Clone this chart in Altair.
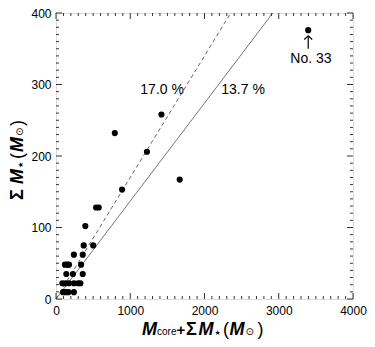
import altair as alt
import pandas as pd

# ---- data ----
pt_x = [792, 1420, 1225, 1666, 3397, 890, 540, 575, 395, 373, 501, 241, 360,
        120, 150, 175, 338, 139, 228, 360, 86, 130, 175, 241, 298, 329,
        95, 130, 166, 241]
pt_y = [232, 258, 206, 167, 376, 153, 128, 128, 102, 75, 75, 62, 62,
        48, 48, 48, 48, 35, 35, 35, 22, 22, 22, 22, 22, 22,
        9.5, 9.5, 9.5, 9.5]

ratios = [0.170, 0.137]          # dashed, solid
ratio_labels = ["17.0 %", "13.7 %"]
label_x = [1429, 2519]
label_y = [293, 293]

note_text = "No. 33"
note_x = 3434
note_y = 336
arrow_x = 3397
arrow_y0 = 350
arrow_y1 = 368

x_ticks = [0, 1000, 2000, 3000, 4000]
y_ticks = [0, 100, 200, 300, 400]
x_minor = list(range(0, 4001, 100))
y_minor = list(range(0, 401, 10))

XMAX, YMAX = 4000, 400
W, H = 297, 286
FONT = "Liberation Sans"

xs = alt.Scale(domain=[0, XMAX], nice=False, zero=False)
ys = alt.Scale(domain=[0, YMAX], nice=False, zero=False)

pts = pd.DataFrame({"x": pt_x, "y": pt_y})

base = alt.Chart(pts).mark_point(filled=True, color="black", size=38, opacity=1).encode(
    x=alt.X("x:Q", scale=xs,
            axis=alt.Axis(values=x_ticks, ticks=False, domain=False, grid=False, title=None,
                          labelFont=FONT, labelFontSize=12, labelColor="black",
                          labelPadding=6, labelFlush=False, labelBound=False, format="d")),
    y=alt.Y("y:Q", scale=ys,
            axis=alt.Axis(values=y_ticks, ticks=False, domain=False, grid=False, title=None,
                          labelFont=FONT, labelFontSize=12, labelColor="black",
                          labelPadding=5, labelFlush=False, labelBound=False, format="d")),
)

lines_df = pd.DataFrame({
    "x": [0, YMAX / ratios[0], 0, YMAX / ratios[1]],
    "y": [0, YMAX, 0, YMAX],
    "g": ["a", "a", "b", "b"],
})
dashed = alt.Chart(lines_df[lines_df.g == "a"]).mark_line(
    color="#555555", strokeWidth=0.9, strokeDash=[4, 3]).encode(
    x=alt.X("x:Q", scale=xs), y=alt.Y("y:Q", scale=ys))
solid = alt.Chart(lines_df[lines_df.g == "b"]).mark_line(
    color="#666666", strokeWidth=0.9).encode(
    x=alt.X("x:Q", scale=xs), y=alt.Y("y:Q", scale=ys))

labels_df = pd.DataFrame({"x": label_x, "y": label_y, "t": ratio_labels})
labels = alt.Chart(labels_df).mark_text(font=FONT, fontSize=14, color="black",
                                        align="center", baseline="middle").encode(
    x=alt.X("x:Q", scale=xs), y=alt.Y("y:Q", scale=ys), text="t:N")

note = alt.Chart(pd.DataFrame({"x": [note_x], "y": [note_y], "t": [note_text]})).mark_text(
    font=FONT, fontSize=14, color="black", align="center", baseline="middle").encode(
    x=alt.X("x:Q", scale=xs), y=alt.Y("y:Q", scale=ys), text="t:N")

arrow_df = pd.DataFrame({"x": [arrow_x], "y0": [arrow_y0], "y1": [arrow_y1]})
stem = alt.Chart(arrow_df).mark_rule(color="black", strokeWidth=1.2).encode(
    x=alt.X("x:Q", scale=xs), y=alt.Y("y0:Q", scale=ys), y2="y1:Q")
head = alt.Chart(arrow_df).mark_point(
    shape="M -1 0.9 L 0 0 L 1 0.9", filled=False, color="black", size=64,
    strokeWidth=1.2, opacity=1).encode(
    x=alt.X("x:Q", scale=xs), y=alt.Y("y1:Q", scale=ys))

# ---- inward ticks on all four sides ----
xt = pd.DataFrame({"v": x_minor, "major": [v % 1000 == 0 for v in x_minor]})
yt = pd.DataFrame({"v": y_minor, "major": [v % 100 == 0 for v in y_minor]})

def xtick_layers(df, length):
    b = alt.Chart(df).mark_rule(color="black", strokeWidth=0.8)
    bottom = b.encode(x=alt.X("v:Q", scale=xs), y=alt.value(H), y2=alt.value(H - length))
    top = b.encode(x=alt.X("v:Q", scale=xs), y=alt.value(0), y2=alt.value(length))
    return [bottom, top]

def ytick_layers(df, length):
    b = alt.Chart(df).mark_rule(color="black", strokeWidth=0.8)
    left = b.encode(y=alt.Y("v:Q", scale=ys), x=alt.value(0), x2=alt.value(length))
    right = b.encode(y=alt.Y("v:Q", scale=ys), x=alt.value(W), x2=alt.value(W - length))
    return [left, right]

ticks = (xtick_layers(xt[~xt.major], 3) + xtick_layers(xt[xt.major], 6)
         + ytick_layers(yt[~yt.major], 3) + ytick_layers(yt[yt.major], 6))

# ---- composed axis titles ----
dummy = pd.DataFrame({"a": [0]})

def piece(text, px, py, size, weight="normal", style="normal", angle=0, font=FONT):
    return alt.Chart(dummy).mark_text(
        text=text, font=font, fontSize=size, fontWeight=weight, fontStyle=style,
        align="left", baseline="alphabetic", angle=angle, color="black").encode(
        x=alt.value(px), y=alt.value(py))

xb = 322
xtitle = [
    piece("M", 86, xb, 18, "bold", "italic"),
    piece("core", 101, xb, 10),
    piece("+", 120.5, xb, 15, "bold"),
    piece("Σ", 130, xb, 18, "bold"),
    piece("M", 142.5, xb, 18, "bold", "italic"),
    piece("★", 158.5, xb, 7, font="DejaVu Sans"),
    piece("(", 167, xb, 18),
    piece("M", 173.5, xb, 18, "bold", "italic"),
    piece("⊙", 189.5, xb, 10, font="DejaVu Sans"),
    piece(")", 201.5, xb, 18),
]
yb = -33
ytitle = [
    piece("Σ", yb, 187, 18, "bold", angle=270),
    piece("M", yb, 171, 18, "bold", "italic", angle=270),
    piece("★", yb, 155, 7, angle=270, font="DejaVu Sans"),
    piece("(", yb, 146, 18, angle=270),
    piece("M", yb, 139, 18, "bold", "italic", angle=270),
    piece("⊙", yb, 123, 10, angle=270, font="DejaVu Sans"),
    piece(")", yb, 113, 18, angle=270),
]

chart = alt.layer(
    solid, dashed, *ticks, base, labels, note, stem, head, *xtitle, *ytitle
).properties(
    width=W, height=H,
    autosize=alt.AutoSizeParams(type="none"),
    padding={"left": 48, "top": 5, "right": 14, "bottom": 40},
).configure_view(stroke="black", strokeWidth=1).configure(background="white")

chart.save("out.html", embed_options={"renderer": "svg", "actions": False})
